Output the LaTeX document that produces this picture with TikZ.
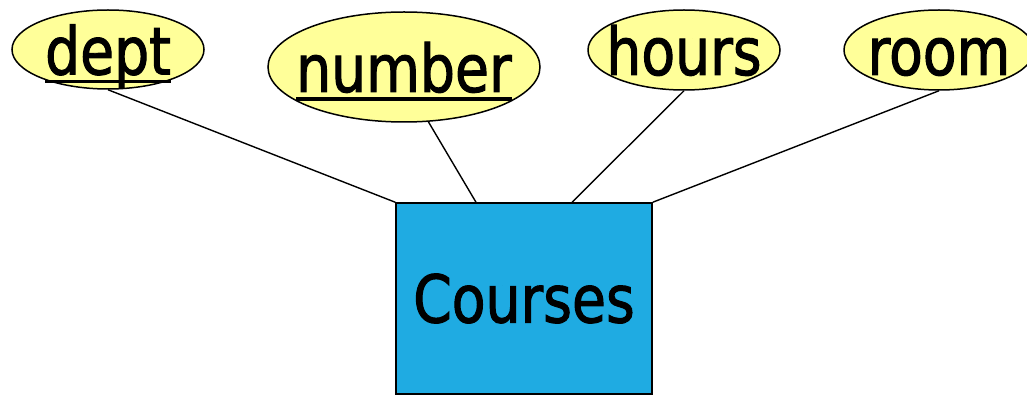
\documentclass[tikz,border=0pt]{standalone}
\usepackage{fontspec}
\setmainfont{DejaVu Sans Condensed}[FakeStretch=0.93, FakeBold=1.5]
\usepackage{tikz}
\usetikzlibrary{shapes.geometric, positioning}
\definecolor{attrfill}{RGB}{255,255,153}
\definecolor{entityfill}{RGB}{31,171,226}
\newsavebox{\keybox}
\newcommand{\keyattr}[1]{\sbox{\keybox}{#1}\rlap{\smash{\rule[-9pt]{\wd\keybox}{3.5pt}}}\usebox{\keybox}}
\tikzstyle{attribute} = [ellipse, draw=black, fill=attrfill, line width=1.5pt, inner xsep=-12pt, inner ysep=-3pt, text height=50pt, text depth=0pt, font=\fontsize{66}{66}\selectfont]
\tikzstyle{entity} = [rectangle, draw=black, fill=entityfill, line width=1.5pt, minimum width=256pt, minimum height=191pt, font=\fontsize{66}{66}\selectfont]
\tikzstyle{link} = [line width=1.4pt]

\begin{document}
\begin{tikzpicture}[x=1pt, y=-1pt]
    \useasboundingbox (0,0) rectangle (1027,395);

        % Nodes
        \node (courses) [entity] at (524,298.5) {Courses};
        \node (dept) [attribute, minimum width=192pt, minimum height=79pt] at (108,49.5) {\keyattr{dept}};
        \node (number) [attribute, minimum width=272pt, minimum height=110pt] at (404,67) {\keyattr{number}};
        \node (hours) [attribute, minimum width=192pt, minimum height=80pt] at (684,50) {hours};
        \node (room) [attribute, minimum width=190pt, minimum height=80pt] at (939,50) {room};
        \coordinate (numberend) at ([xshift=-48pt]courses.north);
        \coordinate (hoursend) at ([xshift=48pt]courses.north);

        % Lines
        \draw [link] (dept.south) -- (courses.north west);
        \draw [link] (number.-66) -- (numberend);
        \draw [link] (hours.south) -- (hoursend);
        \draw [link] (room.south) -- (courses.north east);

    \end{tikzpicture}
\end{document}
